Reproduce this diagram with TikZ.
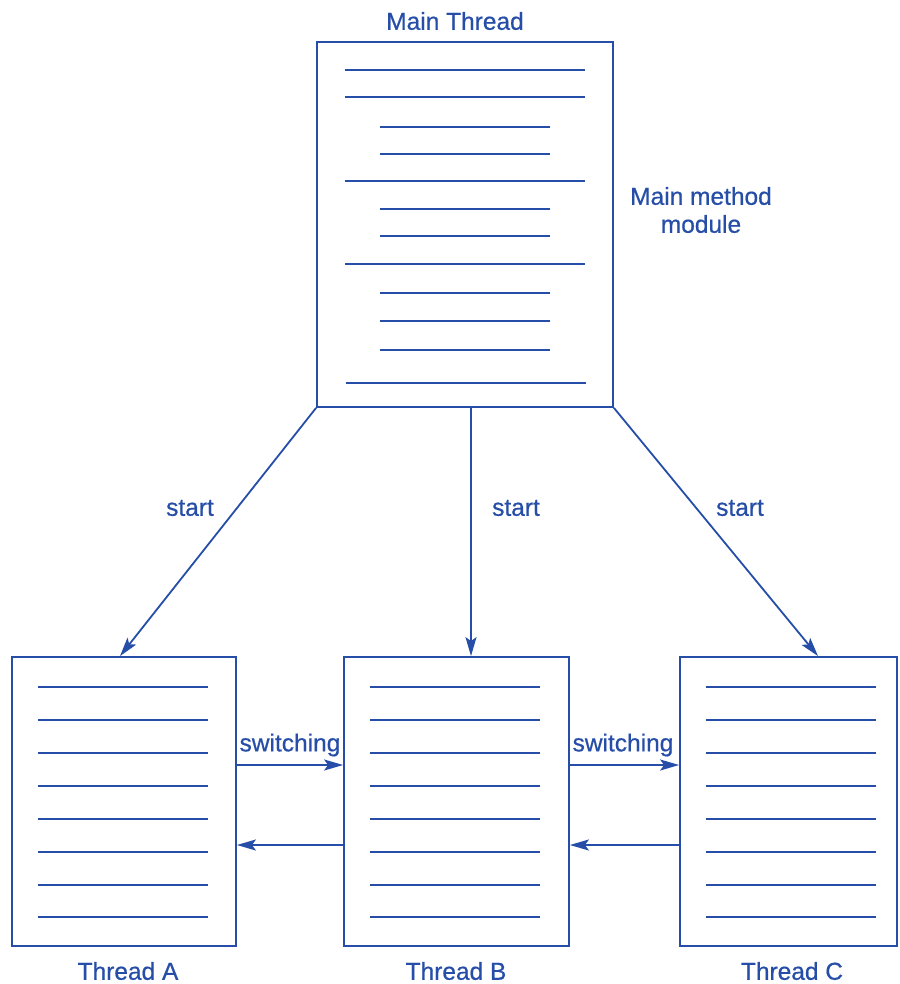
\documentclass[tikz,border=0pt]{standalone}
\usepackage{fontspec}
\setmainfont{Liberation Sans}[FakeBold=0.6]
\usetikzlibrary{arrows.meta,calc}
\definecolor{ink}{RGB}{38,78,168}
\begin{document}
\begin{tikzpicture}[x=1pt,y=-1pt,
  ink/.style={draw=ink,line width=1.8pt},
  box/.style={ink,rectangle,inner sep=0pt,fill=white},
  txt/.style={text=ink,font=\fontsize{24.5}{28}\selectfont,inner sep=0pt,align=center},
  inl/.style={draw=ink,line width=2pt},
  arr/.style={ink,-{Stealth[length=19pt,width=11pt,inset=4pt]}}]
\useasboundingbox (0,0) rectangle (899,984);
\fill[white] (0,0) rectangle (899,984);
% boxes
\node[box,minimum width=296pt,minimum height=365pt] (main) at (465,224.5) {};
\node[box,minimum width=224pt,minimum height=289pt] (A) at (124,801.5) {};
\node[box,minimum width=225pt,minimum height=289pt] (B) at (456.5,801.5) {};
\node[box,minimum width=217pt,minimum height=289pt] (C) at (788.5,801.5) {};
% main inner lines
\foreach \y in {70,97,181,264} \draw[inl] (345,\y) -- (585,\y);
\draw[inl] (346,383) -- (586,383);
\foreach \y in {127,154,209,236,293,321,350} \draw[inl] (380,\y) -- (550,\y);
% thread inner lines
\foreach \y in {687,720,753,786,819,852,885,917}{
  \draw[inl] (38,\y) -- (208,\y);
  \draw[inl] (370,\y) -- (540,\y);
  \draw[inl] (706,\y) -- (876,\y);
}
% labels
\node[txt] (lmain) at (455,21) {Main Thread};
\node[txt] (lmod) at (701,210) {Main method\\module};
\node[txt] (s1) at (190,508) {start};
\node[txt] (s2) at (516,508) {start};
\node[txt] (s3) at (740,508) {start};
\node[txt] (w1) at (290,745) {switching};
\node[txt] (w2) at (623,745) {switching};
\node[txt] (tA) at (128,971) {Thread A};
\node[txt] (tB) at (456,971) {Thread B};
\node[txt] (tC) at (792,971) {Thread C};
% start arrows
\draw[arr] (main.south west) -- ([xshift=-4pt]A.north);
\draw[arr] ([xshift=6pt]main.south) -- ([xshift=14.5pt]B.north);
\draw[arr] (main.south east) -- ([xshift=29.5pt]C.north);
% switching arrows
\coordinate (fw) at (0,765);
\coordinate (bw) at (0,845);
\draw[arr] (A.east |- fw) -- (B.west |- fw);
\draw[arr] (B.east |- fw) -- (C.west |- fw);
\draw[arr] (B.west |- bw) -- (A.east |- bw);
\draw[arr] (C.west |- bw) -- (B.east |- bw);
\end{tikzpicture}
\end{document}
